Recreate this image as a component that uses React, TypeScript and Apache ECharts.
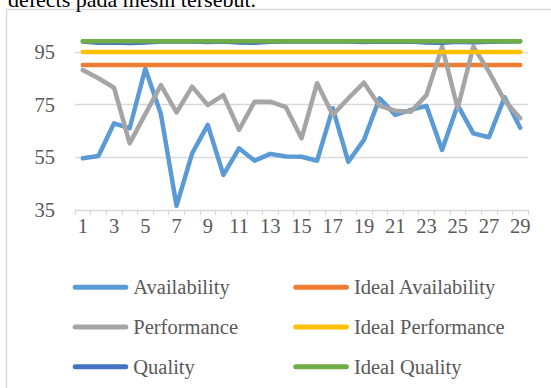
import React, { useEffect, useRef } from "react";
import * as echarts from "echarts";

const categories = ["1","2","3","4","5","6","7","8","9","10","11","12","13","14","15","16","17","18","19","20","21","22","23","24","25","26","27","28","29"];
const availability = [54.6, 55.5, 67.9, 66.0, 88.6, 71.4, 36.6, 56.5, 67.3, 48.3, 58.4, 53.7, 56.3, 55.3, 55.2, 53.7, 73.6, 53.3, 61.6, 77.4, 71.1, 73.0, 74.5, 57.8, 74.8, 64.1, 62.6, 77.8, 66.2];
const idealAvailability = [90, 90, 90, 90, 90, 90, 90, 90, 90, 90, 90, 90, 90, 90, 90, 90, 90, 90, 90, 90, 90, 90, 90, 90, 90, 90, 90, 90, 90];
const performance = [88.1, 85.0, 81.4, 60.3, 71.4, 82.4, 72.0, 81.8, 74.8, 78.6, 65.4, 76.1, 76.1, 74.0, 62.2, 83.1, 71.1, 77.4, 83.3, 74.5, 72.7, 72.3, 78.6, 97.0, 73.6, 97.0, 87.5, 76.5, 69.8];
const idealPerformance = [95, 95, 95, 95, 95, 95, 95, 95, 95, 95, 95, 95, 95, 95, 95, 95, 95, 95, 95, 95, 95, 95, 95, 95, 95, 95, 95, 95, 95];
const quality = [98.9, 98.5, 98.6, 98.4, 98.6, 98.9, 99.0, 98.9, 98.7, 98.9, 98.6, 98.5, 98.8, 98.9, 99.0, 98.9, 99.0, 98.9, 98.7, 98.9, 98.8, 98.9, 98.6, 98.5, 98.8, 98.7, 98.8, 98.9, 99.0];
const idealQuality = [99, 99, 99, 99, 99, 99, 99, 99, 99, 99, 99, 99, 99, 99, 99, 99, 99, 99, 99, 99, 99, 99, 99, 99, 99, 99, 99, 99, 99];

const seriesNames = ["Availability", "Ideal Availability", "Performance", "Ideal Performance", "Quality", "Ideal Quality"];
const seriesColors = ["#5B9BD5", "#ED7D31", "#A5A5A5", "#FFC000", "#4472C4", "#70AD47"];
const seriesData = [availability, idealAvailability, performance, idealPerformance, quality, idealQuality];

const FONT = "'Liberation Serif', 'Times New Roman', serif";
const LEGEND_ICON = "path://M2.5,0 L53.1,0 A2.5,2.5 0 0 1 53.1,5 L2.5,5 A2.5,2.5 0 0 1 2.5,0 Z";

export default function App() {
  const ref = useRef<HTMLDivElement>(null);
  useEffect(() => {
    if (!ref.current) return;
    const chart = echarts.init(ref.current, null, { renderer: "svg" });
    const legendCommon = {
      orient: "vertical",
      icon: LEGEND_ICON,
      itemWidth: 55.6,
      itemHeight: 5,
      itemGap: 15.7,
      top: 270.3,
      textStyle: { fontFamily: FONT, fontSize: 20.5, color: "#595959", lineHeight: 24 },
      selectedMode: false,
    };
    chart.setOption({
      animation: false,
      backgroundColor: "#ffffff",
      graphic: [
        {
          type: "rect",
          z: -10,
          shape: { x: 6.5, y: 9.5, width: 600, height: 420 },
          style: { fill: "none", stroke: "#d9d9d9", lineWidth: 1.3 },
        },
        {
          type: "text",
          x: 8,
          y: -0.5,
          style: {
            text: "defects pada mesin tersebut.",
            fontFamily: FONT,
            fontSize: 22,
            fill: "#000000",
            verticalAlign: "middle",
          },
        },
      ],
      grid: { left: 75, right: 23, top: 38.7, bottom: 178, containLabel: false },
      legend: [
        { ...legendCommon, left: 67.7, data: [seriesNames[0], seriesNames[2], seriesNames[4]] },
        { ...legendCommon, left: 288.3, data: [seriesNames[1], seriesNames[3], seriesNames[5]] },
      ],
      xAxis: {
        type: "category",
        data: categories,
        boundaryGap: true,
        axisLine: { lineStyle: { color: "#d9d9d9", width: 1.3 } },
        axisTick: { show: true, interval: 0, length: 5, lineStyle: { color: "#d9d9d9", width: 1.3 } },
        axisLabel: { interval: 1, fontFamily: FONT, fontSize: 20.5, color: "#595959", margin: 5 },
      },
      yAxis: {
        type: "value",
        min: 35,
        max: 100,
        interval: 20,
        axisLine: { show: false },
        axisTick: { show: false },
        axisLabel: { fontFamily: FONT, fontSize: 20.5, color: "#595959", margin: 20, showMaxLabel: false },
        splitLine: { show: true, showMaxLine: false, showMinLine: false, lineStyle: { color: "#d9d9d9", width: 1.3 } },
      },
      series: seriesNames.map((name, i) => ({
        name,
        type: "line",
        data: seriesData[i],
        symbol: "none",
        showSymbol: false,
        color: seriesColors[i],
        itemStyle: { color: seriesColors[i] },
        lineStyle: { width: 4.5, color: seriesColors[i], cap: "round", join: "round" },
      })),
    });
    return () => chart.dispose();
  }, []);
  return (
    <div
      ref={ref}
      style={{ position: "absolute", left: 0, top: 0, width: 551, height: 388, background: "#fff" }}
    />
  );
}
